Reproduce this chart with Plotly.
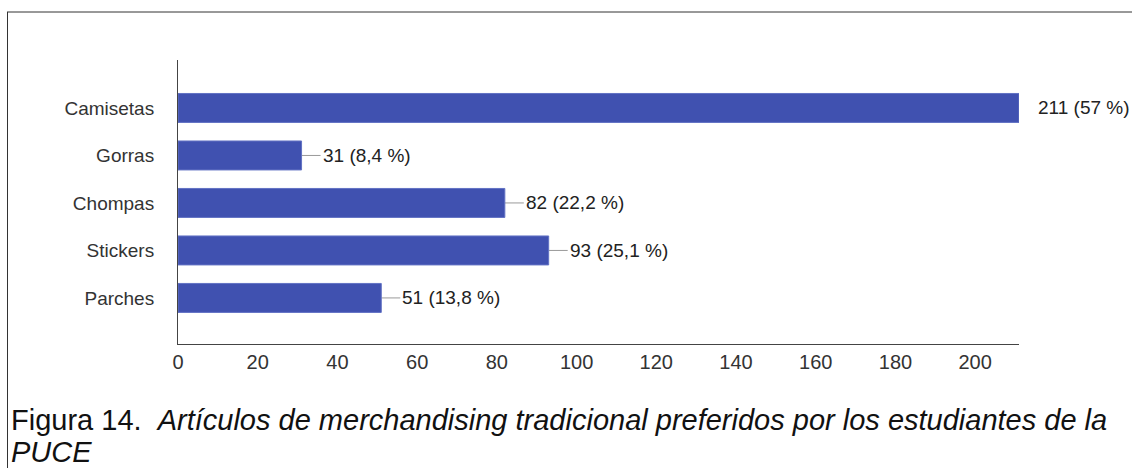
import plotly.graph_objects as go

categories = ["Camisetas", "Gorras", "Chompas", "Stickers", "Parches"]
values = [211, 31, 82, 93, 51]
percent_labels = ["57 %", "8,4 %", "22,2 %", "25,1 %", "13,8 %"]
x_ticks = [0, 20, 40, 60, 80, 100, 120, 140, 160, 180, 200]
caption_plain = "Figura 14."
caption_italic_1 = "Artículos de merchandising tradicional preferidos por los estudiantes de la"
caption_italic_2 = "PUCE"

W, H = 1132, 468
L, R, T, B = 178, 113, 60, 124
pw, ph = W - L - R, H - T - B

def px(xp):
    return (xp - L) / pw

def py(yp):
    return (H - B - yp) / ph

FONT = "Liberation Sans, Arial"

fig = go.Figure()
fig.add_trace(go.Bar(
    y=categories, x=values, orientation="h",
    marker=dict(color="#4051B0", line=dict(color="#6272C4", width=1)),
    width=0.61, hoverinfo="skip",
))

shapes = []
annotations = []
for cat, v, p in zip(categories, values, percent_labels):
    gap = 19 if v < 200 else 12
    shapes.append(dict(type="line", xref="x", yref="y", xsizemode="pixel",
                       xanchor=v, x0=0, x1=gap, y0=cat, y1=cat,
                       line=dict(color="#999999", width=1), layer="below"))
    annotations.append(dict(x=v, y=cat, xref="x", yref="y", text=f"{v} ({p})",
                            showarrow=False, xanchor="left", yanchor="middle",
                            xshift=gap + (0 if v < 200 else 5),
                            font=dict(family=FONT, size=19, color="#222222")))

# frame lines (top and left)
shapes.append(dict(type="line", xref="paper", yref="paper", x0=px(7), x1=px(1140),
                   y0=py(12), y1=py(12), line=dict(color="#333333", width=1)))
shapes.append(dict(type="line", xref="paper", yref="paper", x0=px(7.5), x1=px(7.5),
                   y0=py(12), y1=py(470), line=dict(color="#333333", width=1)))

annotations.append(dict(xref="paper", yref="paper", x=px(9), y=py(420),
                        xanchor="left", yanchor="middle", showarrow=False, align="left",
                        text=f"{caption_plain}  <i>{caption_italic_1}</i>",
                        font=dict(family=FONT, size=29, color="#111111")))
annotations.append(dict(xref="paper", yref="paper", x=px(9), y=py(452),
                        xanchor="left", yanchor="middle", showarrow=False, align="left",
                        text=f"<i>{caption_italic_2}</i>",
                        font=dict(family=FONT, size=29, color="#111111")))

fig.update_layout(
    width=W, height=H,
    margin=dict(l=L, r=R, t=T, b=B, autoexpand=False),
    paper_bgcolor="white", plot_bgcolor="white",
    showlegend=False,
    shapes=shapes, annotations=annotations,
    font=dict(family=FONT, size=19, color="#333333"),
    xaxis=dict(range=[0, 211], tickvals=x_ticks, showgrid=False, zeroline=False,
               showline=True, linecolor="#444444", linewidth=1,
               ticks="", ticklen=0,
               tickfont=dict(size=20, color="#333333"), fixedrange=True),
    yaxis=dict(categoryorder="array", categoryarray=categories,
               range=[4.97, -1.01], showgrid=False, zeroline=False,
               showline=True, linecolor="#444444", linewidth=1,
               ticks="outside", ticklen=19, tickcolor="rgba(0,0,0,0)",
               tickfont=dict(size=19, color="#333333"), fixedrange=True),
)

fig.write_html("out.html")
